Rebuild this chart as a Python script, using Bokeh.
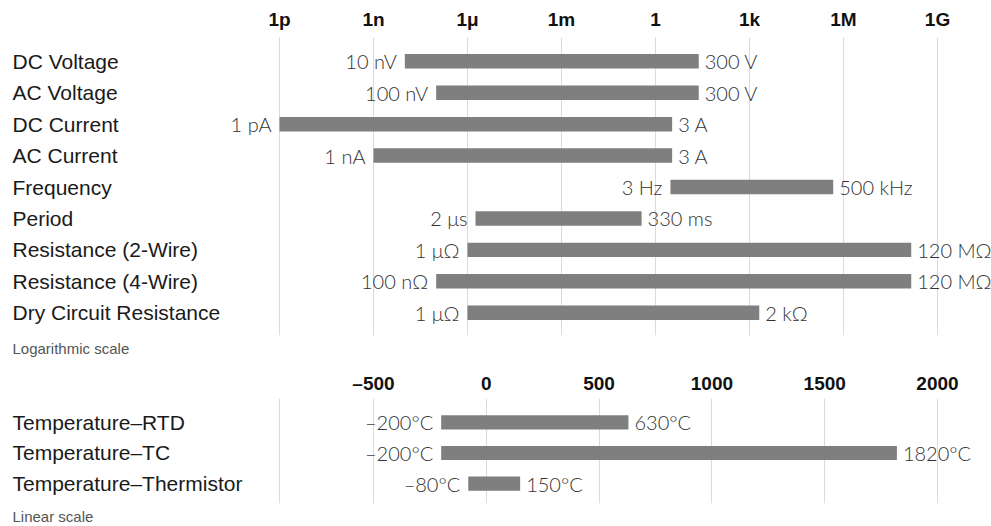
from math import log10
from bokeh.plotting import figure
from bokeh.models import Range1d, FixedTicker, ColumnDataSource, Title
from bokeh.layouts import column
from bokeh.embed import file_html
from bokeh.resources import INLINE
from bokeh.core.properties import value

# ---------------- data ----------------
log_names = ["DC Voltage", "AC Voltage", "DC Current", "AC Current", "Frequency",
             "Period", "Resistance (2-Wire)", "Resistance (4-Wire)", "Dry Circuit Resistance"]
log_low = [1e-8, 1e-7, 1e-12, 1e-9, 3, 1.8e-6, 1e-6, 1e-7, 1e-6]
log_high = [24, 24, 3.4, 3.4, 4.7e5, 0.36, 1.45e8, 1.45e8, 2.05e3]
log_low_labels = ["10 nV", "100 nV", "1 pA", "1 nA", "3 Hz", "2 μs", "1 μΩ", "100 nΩ", "1 μΩ"]
log_high_labels = ["300 V", "300 V", "3 A", "3 A", "500 kHz", "330 ms", "120 MΩ", "120 MΩ", "2 kΩ"]
log_ticks = [1e-12, 1e-9, 1e-6, 1e-3, 1, 1e3, 1e6, 1e9]
log_tick_labels = ["1p", "1n", "1μ", "1m", "1", "1k", "1M", "1G"]

lin_names = ["Temperature–RTD", "Temperature–TC", "Temperature–Thermistor"]
lin_low = [-200, -200, -80]
lin_high = [630, 1820, 150]
lin_low_labels = ["–200°C", "–200°C", "–80°C"]
lin_high_labels = ["630°C", "1820°C", "150°C"]
lin_ticks = [-500, 0, 500, 1000, 1500, 2000]
lin_tick_labels = ["–500", "0", "500", "1000", "1500", "2000"]

# ---------------- layout constants ----------------
W = 991
PX_FIRST, PX_LAST = 279, 937          # frame px of first / last labelled log tick
dec_px = (PX_LAST - PX_FIRST) / (log10(log_ticks[-1]) - log10(log_ticks[0]))
L0 = log10(log_ticks[0]) - PX_FIRST / dec_px
L1 = log10(log_ticks[-1]) + (W - PX_LAST) / dec_px

# linear axis shares the same pixel span: lin_ticks[0] <-> 1n, lin_ticks[-1] <-> 1G
px_lin0 = PX_FIRST + 3 * dec_px
lin_per_px = (lin_ticks[-1] - lin_ticks[0]) / (PX_LAST - px_lin0)
lin_start = lin_ticks[0] - px_lin0 * lin_per_px
lin_end = lin_ticks[-1] + (W - PX_LAST) * lin_per_px
lin_edge = lin_ticks[0] - (px_lin0 - PX_FIRST) * lin_per_px

CAT_FONT = value("Liberation Sans")
VAL_FONT = value("Lato Light")
BAR_COLOR = "#7f7f7f"
GRID_COLOR = "#dadada"


def style(p, ticks, labels, grid_ticks, standoff):
    p.xaxis.ticker = FixedTicker(ticks=ticks)
    p.xaxis.major_label_overrides = dict(zip(ticks, labels))
    p.xaxis.axis_line_color = None
    p.xaxis.major_tick_line_color = None
    p.xaxis.minor_tick_line_color = None
    p.xaxis.major_tick_out = 0
    p.xaxis.major_tick_in = 0
    p.xaxis.major_label_standoff = standoff
    p.xaxis.major_label_text_font = "Liberation Sans"
    p.xaxis.major_label_text_font_size = "19px"
    p.xaxis.major_label_text_font_style = "bold"
    p.xaxis.major_label_text_color = "#111111"
    p.xgrid.ticker = FixedTicker(ticks=grid_ticks)
    p.xgrid.grid_line_color = GRID_COLOR
    p.ygrid.grid_line_color = None
    p.outline_line_color = None
    p.background_fill_color = "white"
    p.border_fill_color = "white"


def draw_rows(p, src, x0, bar_h):
    p.hbar(y="row", left="lo", right="hi", height=bar_h, source=src,
           fill_color=BAR_COLOR, line_color=None)
    p.text(x=x0, y="row", text="name", source=src, x_offset=12,
           text_align="left", text_baseline="middle", text_font=CAT_FONT,
           text_font_size="21px", text_color="#1a1a1a")
    p.text(x="lo", y="row", text="lo_lab", source=src, x_offset=-8,
           text_align="right", text_baseline="middle", text_font=VAL_FONT,
           text_font_size="20px", text_color="#333333")
    p.text(x="hi", y="row", text="hi_lab", source=src, x_offset=6,
           text_align="left", text_baseline="middle", text_font=VAL_FONT,
           text_font_size="20px", text_color="#333333")


def note(text):
    return Title(text=text, align="left", offset=12, standoff=4,
                 text_font="Liberation Sans", text_font_size="15px",
                 text_font_style="normal", text_color="#555555")


# ---------------- top (log) panel ----------------
n1 = len(log_names)
y1_top, y1_bot = -0.757, (n1 - 1) + 0.725
x0_log = 10 ** L0
p1 = figure(width=W, height=358, x_axis_type="log", x_axis_location="above",
            y_axis_location=None, x_range=Range1d(x0_log, 10 ** L1),
            y_range=Range1d(y1_bot, y1_top), output_backend="svg",
            toolbar_location=None, min_border_left=0, min_border_right=0,
            min_border_top=37, min_border_bottom=23)
style(p1, log_ticks, log_tick_labels, log_ticks, 8)
src1 = ColumnDataSource(dict(row=list(range(n1)), name=log_names, lo=log_low, hi=log_high,
                             lo_lab=log_low_labels, hi_lab=log_high_labels))
draw_rows(p1, src1, x0_log, 0.46)
p1.add_layout(note("Logarithmic scale"), "below")

# ---------------- bottom (linear) panel ----------------
n2 = len(lin_names)
y2_top, y2_bot = -0.778, (n2 - 1) + 0.65
p2 = figure(width=W, height=168, x_axis_location="above", y_axis_location=None,
            x_range=Range1d(lin_start, lin_end), y_range=Range1d(y2_bot, y2_top),
            output_backend="svg", toolbar_location=None, min_border_left=0,
            min_border_right=0, min_border_top=40, min_border_bottom=20)
style(p2, lin_ticks, lin_tick_labels, [lin_edge] + lin_ticks, 5)
src2 = ColumnDataSource(dict(row=list(range(n2)), name=lin_names, lo=lin_low, hi=lin_high,
                             lo_lab=lin_low_labels, hi_lab=lin_high_labels))
draw_rows(p2, src2, lin_start, 0.46)
p2.add_layout(note("Linear scale"), "below")

layout = column(p1, p2, spacing=0)
open("out.html", "w").write(file_html(layout, INLINE))
